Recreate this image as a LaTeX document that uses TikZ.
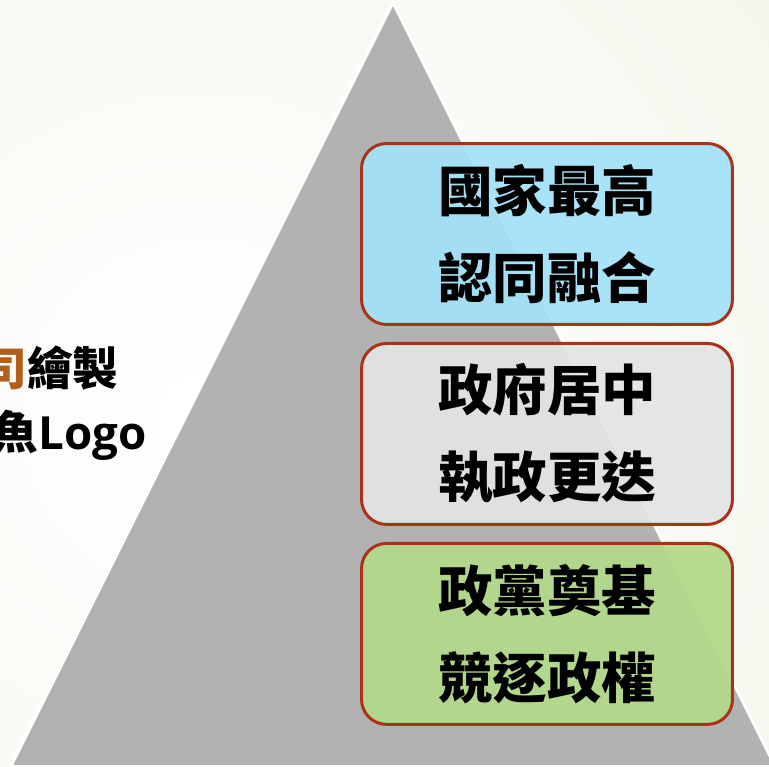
\documentclass[tikz,border=0pt]{standalone}
\usepackage{fontspec}
\setmainfont{Open Sans}
\newfontfamily\cjk{Noto Sans CJK TC}
\usepackage{xcolor}
\usetikzlibrary{positioning}

\definecolor{bgouter}{HTML}{EAEEDA}
\definecolor{trigray}{HTML}{B2B2B2}
\definecolor{cardedge}{HTML}{A8321A}
\definecolor{cardblue}{HTML}{A2E2F8}
\definecolor{cardgray}{HTML}{E4E4E4}
\definecolor{cardgreen}{HTML}{B2DA88}
\definecolor{brandorange}{HTML}{B0601C}

\begin{document}
\begin{tikzpicture}[
  x=0.02cm, y=0.02cm,
  card/.style={draw=cardedge, line width=0.06cm, rounded corners=0.5cm,
    minimum width=7.42cm, minimum height=3.62cm,
    fill opacity=0.92, text opacity=1,
    font=\cjk\bfseries\fontsize{31pt}{49.5pt}\selectfont, align=center},
  nation/.style={card, fill=cardblue},
  govt/.style={card, fill=cardgray},
  party/.style={card, fill=cardgreen},
  credit/.style={inner sep=0pt, anchor=east,
    font=\bfseries\fontsize{26pt}{30pt}\selectfont},
  node distance=0.32cm,
]
\useasboundingbox (0,0) rectangle (769,767);
\clip (0,0) rectangle (769,767);

% background
\shade[inner color=white, outer color=bgouter] (-1300,-1150) rectangle (1700,1850);

% pyramid
\coordinate (apex) at (393,764);
\coordinate (baseL) at (11,0.5);
\coordinate (baseR) at (775,0.5);
\draw[white, line width=0.05cm, fill=trigray] (baseL) -- (apex) -- (baseR) -- cycle;

% credit text (cut at the left edge)
\node[credit] (maker) at (119,399) {{\cjk\textcolor{brandorange}{司}繪製}};
\node[credit] (logo) at (147,332) {{\cjk 魚}Logo};

% three levels
\node[nation] (nation) at (547,533) {國家最高\\認同融合};
\node[govt, below=of nation] (govt) {政府居中\\執政更迭};
\node[party, below=of govt] (party) {政黨奠基\\競逐政權};

\end{tikzpicture}
\end{document}
